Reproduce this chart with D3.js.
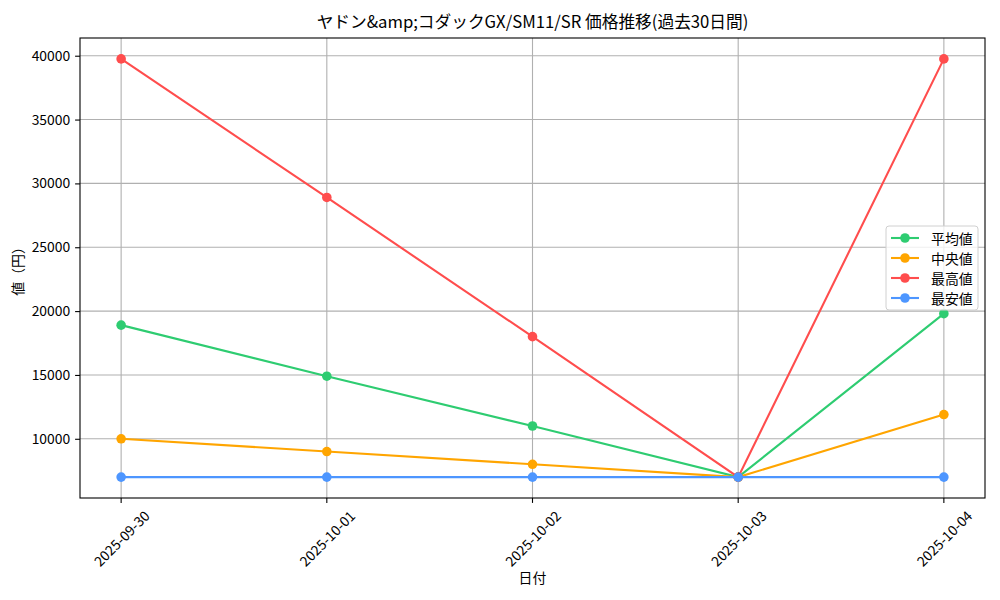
<!DOCTYPE html>
<html>
<head>
<meta charset="utf-8">
<script src="https://cdn.jsdelivr.net/npm/d3@7"></script>
<style>
  body { margin: 0; background: #fff; }
  svg { display: block; font-family: "Noto Sans CJK JP", sans-serif; }
  .grid line { stroke: #b0b0b0; stroke-width: 1.1px; }
</style>
</head>
<body>
<svg id="chart" width="1000" height="600"></svg>
<script>
var titleText = 'ヤドン&amp;コダックGX/SM11/SR 価格推移(過去30日間)';
var dates = ['2025-09-30', '2025-10-01', '2025-10-02', '2025-10-03', '2025-10-04'];
var avgValues = [18900, 14900, 11000, 7000, 19800];
var medianValues = [10000, 9000, 8000, 7000, 11900];
var maxValues = [39750, 28900, 18000, 7000, 39750];
var minValues = [7000, 7000, 7000, 7000, 7000];
var seriesNames = ['平均値', '中央値', '最高値', '最安値'];
var seriesColors = ['#2ecc71', '#ffa500', '#ff4d4d', '#4d96ff'];
var yTicks = [10000, 15000, 20000, 25000, 30000, 35000, 40000];

var series = [avgValues, medianValues, maxValues, minValues].map(function (vals, i) {
    return { name: seriesNames[i], color: seriesColors[i], values: vals };
});

var svg = d3.select('#chart');
var margin = { top: 38, right: 15, bottom: 102, left: 80 };
var width = 1000 - margin.left - margin.right,
    height = 600 - margin.top - margin.bottom;

// matplotlib-like 5% margins
var allVals = d3.merge(series.map(function (s) { return s.values; }));
var lo = d3.min(allVals), hi = d3.max(allVals), pad = (hi - lo) * 0.05;
var n = dates.length;
var markerR = 4.8;

var x = d3.scaleLinear().domain([-0.2, n - 1 + 0.2]).range([0, width]);
var y = d3.scaleLinear().domain([lo - pad, hi + pad]).range([height, 0]);

var g = svg.append('g').attr('transform', 'translate(' + margin.left + ',' + margin.top + ')');

// grid
g.append('g').attr('class', 'grid')
    .selectAll('line.h').data(yTicks).enter().append('line')
    .attr('x1', 0).attr('x2', width)
    .attr('y1', function (d) { return y(d); }).attr('y2', function (d) { return y(d); });
g.append('g').attr('class', 'grid')
    .selectAll('line.v').data(dates).enter().append('line')
    .attr('y1', 0).attr('y2', height)
    .attr('x1', function (d, i) { return x(i); }).attr('x2', function (d, i) { return x(i); });

// lines and markers
var line = d3.line()
    .x(function (d, i) { return x(i); })
    .y(function (d) { return y(d); });

series.forEach(function (s) {
    g.append('path')
        .datum(s.values)
        .attr('fill', 'none')
        .attr('stroke', s.color)
        .attr('stroke-width', 2.1)
        .attr('d', line);
    g.selectAll(null).data(s.values).enter().append('circle')
        .attr('cx', function (d, i) { return x(i); })
        .attr('cy', function (d) { return y(d); })
        .attr('r', markerR)
        .attr('fill', s.color);
});

// frame
g.append('rect').attr('width', width).attr('height', height)
    .attr('fill', 'none').attr('stroke', '#000').attr('stroke-width', 1.1);

// y axis
var yAxis = g.append('g')
    .call(d3.axisLeft(y).tickValues(yTicks).tickSize(4.9).tickPadding(4.9).tickFormat(d3.format('d')));
yAxis.select('.domain').remove();
yAxis.selectAll('text').attr('font-size', '13.9px').attr('fill', '#000')
    .attr('font-family', '"Noto Sans CJK JP", sans-serif');
yAxis.selectAll('line').attr('stroke', '#000').attr('stroke-width', 1.1);

// x axis ticks + rotated labels (centered like matplotlib rotation=45)
var xAxis = g.append('g').attr('transform', 'translate(0,' + height + ')');
xAxis.selectAll('line').data(dates).enter().append('line')
    .attr('x1', function (d, i) { return x(i); }).attr('x2', function (d, i) { return x(i); })
    .attr('y1', 0).attr('y2', 4.9).attr('stroke', '#000').attr('stroke-width', 1.1);
xAxis.selectAll('text').data(dates).enter().append('text')
    .attr('font-size', '13.9px')
    .attr('text-anchor', 'middle')
    .attr('dominant-baseline', 'central')
    .text(function (d) { return d; })
    .each(function (d, i) {
        var w = this.getComputedTextLength(), h = 13.9;
        var bh = (w + h) * Math.SQRT1_2;
        var cy = 4.9 + 4.9 + bh / 2;
        d3.select(this).attr('transform', 'translate(' + x(i) + ',' + cy + ') rotate(-45)');
    });

// labels
svg.append('text')
    .attr('x', margin.left + width / 2).attr('y', 28)
    .attr('text-anchor', 'middle').attr('font-size', '16.7px')
    .text(titleText);
svg.append('text')
    .attr('x', margin.left + width / 2).attr('y', 583)
    .attr('text-anchor', 'middle').attr('font-size', '13.9px')
    .text('日付');
svg.append('text')
    .attr('transform', 'translate(23,' + (margin.top + height / 2) + ') rotate(-90)')
    .attr('text-anchor', 'middle').attr('font-size', '13.9px')
    .text('値（円）');

// legend
var legend = svg.append('g').attr('transform', 'translate(886,226)');
legend.append('rect')
    .attr('width', 92).attr('height', 84).attr('rx', 3)
    .attr('fill', '#fff').attr('fill-opacity', 0.8)
    .attr('stroke', '#d0d0d0').attr('stroke-width', 1);
series.forEach(function (s, i) {
    var ly = 12 + i * 20;
    var item = legend.append('g').attr('transform', 'translate(0,' + ly + ')');
    item.append('line').attr('x1', 5).attr('x2', 33).attr('y1', 0).attr('y2', 0)
        .attr('stroke', s.color).attr('stroke-width', 2.1);
    item.append('circle').attr('cx', 19).attr('cy', 0).attr('r', markerR).attr('fill', s.color);
    item.append('text').attr('x', 45).attr('y', 0)
        .attr('dominant-baseline', 'central').attr('font-size', '13.9px')
        .text(s.name);
});
</script>
</body>
</html>
